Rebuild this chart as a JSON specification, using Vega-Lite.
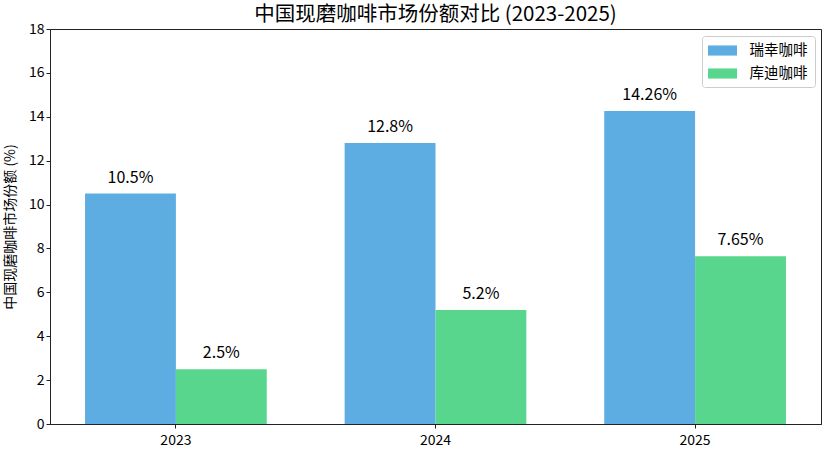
{
  "$schema": "https://vega.github.io/schema/vega-lite/v6.json",
  "width": 771,
  "height": 395,
  "autosize": {"type": "none"},
  "padding": {"left": 50, "top": 29, "right": 4, "bottom": 35},
  "title": {
    "text": "中国现磨咖啡市场份额对比 (2023-2025)",
    "fontSize": 20.5,
    "fontWeight": "normal",
    "font": "Noto Sans CJK SC",
    "color": "#000000",
    "offset": -3
  },
  "data": {
    "values": [
      {"year": "2023", "brand": "瑞幸咖啡", "share": 10.5},
      {"year": "2023", "brand": "库迪咖啡", "share": 2.5},
      {"year": "2024", "brand": "瑞幸咖啡", "share": 12.8},
      {"year": "2024", "brand": "库迪咖啡", "share": 5.2},
      {"year": "2025", "brand": "瑞幸咖啡", "share": 14.26},
      {"year": "2025", "brand": "库迪咖啡", "share": 7.65}
    ]
  },
  "transform": [{"calculate": "datum.share + '%'", "as": "label"}],
  "encoding": {
    "x": {
      "field": "year",
      "type": "nominal",
      "title": null,
      "scale": {"paddingInner": 0.3, "paddingOuter": 0.135},
      "axis": {"labelAngle": 0, "labelPadding": 5}
    },
    "xOffset": {
      "field": "brand",
      "type": "nominal",
      "sort": ["瑞幸咖啡", "库迪咖啡"],
      "scale": {"paddingInner": 0, "paddingOuter": 0}
    },
    "y": {
      "field": "share",
      "type": "quantitative",
      "title": "中国现磨咖啡市场份额 (%)",
      "scale": {"domain": [0, 18], "nice": false},
      "axis": {"values": [0, 2, 4, 6, 8, 10, 12, 14, 16, 18], "titlePadding": 11}
    }
  },
  "layer": [
    {
      "mark": {"type": "bar"},
      "encoding": {
        "color": {
          "field": "brand",
          "type": "nominal",
          "sort": ["瑞幸咖啡", "库迪咖啡"],
          "scale": {"domain": ["瑞幸咖啡", "库迪咖啡"], "range": ["#5DADE2", "#58D68D"]},
          "legend": {
            "title": null,
            "orient": "none",
            "legendX": 652,
            "legendY": 7,
            "symbolType": "M-2,-0.7H2V0.7H-2Z",
            "symbolSize": 210,
            "symbolStrokeWidth": 0,
            "symbolOpacity": 1,
            "symbolOffset": 6,
            "labelOffset": 19.5,
            "rowPadding": 8,
            "padding": 7,
            "labelFontSize": 14.5,
            "labelFont": "Noto Sans CJK SC",
            "labelColor": "#000000",
            "strokeColor": "#cccccc",
            "fillColor": "#ffffff",
            "cornerRadius": 3
          }
        }
      }
    },
    {
      "mark": {
        "type": "text",
        "baseline": "bottom",
        "dy": -8,
        "fontSize": 16,
        "font": "Noto Sans CJK SC",
        "color": "#000000"
      },
      "encoding": {
        "text": {"field": "label", "type": "nominal"}
      }
    }
  ],
  "config": {
    "font": "Noto Sans CJK SC",
    "view": {"stroke": "#222222", "strokeWidth": 1},
    "axis": {
      "grid": false,
      "domainColor": "#222222",
      "tickColor": "#222222",
      "tickSize": 4,
      "labelFontSize": 14,
      "labelColor": "#000000",
      "titleFontSize": 14,
      "titleFontWeight": "normal",
      "titleColor": "#000000",
      "labelFont": "Noto Sans CJK SC",
      "titleFont": "Noto Sans CJK SC"
    }
  }
}
